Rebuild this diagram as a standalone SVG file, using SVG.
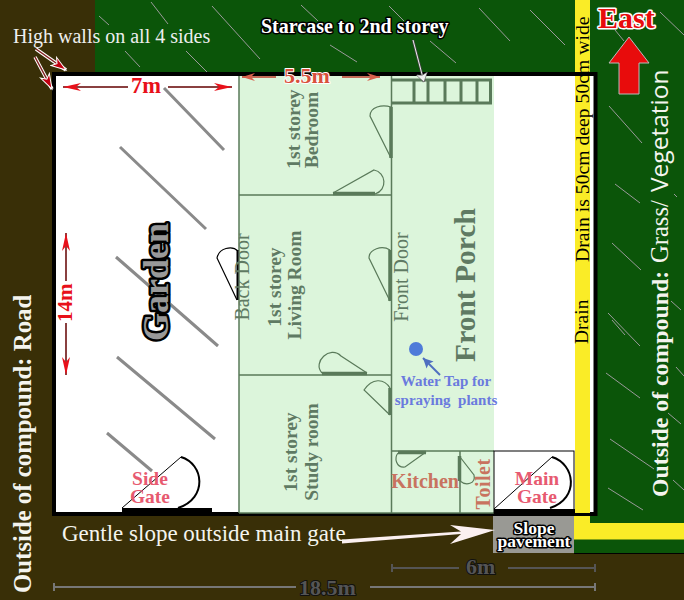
<svg xmlns="http://www.w3.org/2000/svg" width="684" height="600" viewBox="0 0 684 600">
<defs>
<style>
text{font-family:"Liberation Serif","Times New Roman",serif}
.b{font-weight:bold}
.room{fill:#5f7a63;font-weight:bold;font-size:19.500px;text-anchor:middle}
.door{fill:#5f7a63;font-size:20px;text-anchor:middle}
.gate{fill:#e75a70;font-weight:bold;font-size:19.500px;text-anchor:middle}
.tree{stroke:#8a8a8a;stroke-width:3;fill:none}
.hatch{stroke:#9a9a9a;stroke-width:1;fill:none}
.wallline{stroke:#5a7a5a;stroke-width:1.5;fill:none}
.leaf{stroke:#5a7a5a;stroke-width:1.2;fill:none}
.leafthick{stroke:#5a7a5a;stroke-width:3.5;fill:none}
.dim{stroke:#777;stroke-width:2;fill:none}
.red{stroke:#8a4040;stroke-width:2;fill:none;marker-end:url(#rh)}
.faded{stroke:#c46a58;stroke-width:2;fill:none;marker-end:url(#fh)}
.halo{paint-order:stroke;stroke-linejoin:round}
</style>
<marker id="rh" markerUnits="userSpaceOnUse" markerWidth="20" markerHeight="12" refX="18" refY="6" orient="auto" viewBox="0 0 20 12"><path d="M18 6L0 2L5 6L0 10Z" fill="#e8101a"/></marker>
<marker id="fh" markerUnits="userSpaceOnUse" markerWidth="14" markerHeight="10" refX="13" refY="5" orient="auto" viewBox="0 0 14 10"><path d="M13 5L0 1L4 5L0 9Z" fill="#d8604c"/></marker>
<marker id="wh" markerUnits="userSpaceOnUse" markerWidth="18" markerHeight="14" refX="16" refY="6" orient="auto" viewBox="0 0 18 12"><path d="M16 6L1 1L5 6L1 11Z" fill="#c00010" stroke="#fff" stroke-width="1"/></marker>
<marker id="ah" markerUnits="userSpaceOnUse" markerWidth="12" markerHeight="12" refX="10" refY="5" orient="auto" viewBox="0 0 12 10"><path d="M10 5L0 0L2 5L0 10Z" fill="#4f6fc0"/></marker>
<marker id="sh" markerUnits="userSpaceOnUse" markerWidth="10" markerHeight="16" refX="9" refY="7" orient="auto" viewBox="0 0 10 14"><path d="M9 7L0 1L2 7L0 13Z" fill="#eee" stroke="#444" stroke-width=".5"/></marker>
</defs>
<g id="ground">
<rect width="684" height="600" fill="#392f07"/>
<rect x="95" width="589" height="72" fill="#0b5509"/>
<rect x="574" width="110" height="553" fill="#0b5509"/>
<rect x="574" y="553" width="110" height="1" fill="#000"/>
<path d="M575 0H590V523H684V539.500H574V516H575Z" fill="#faec27"/>
</g>
<g id="hatching" class="hatch">
<path d="M99 16L109 25M151 2L168 24M212 6L260 59M301 5L318 21M125 51L140 67M186 51L207 72M330 45L357 62M389 6L404 21M479 8L510 41M530 10L565 45M430 41L456 63M660 12L684 35M615 30L624 41M609 106L642 143M615 184L640 203M674 194L677 197M612 243L641 270M671 301L681 310M608 313L640 346M612 320L625 335M606 373L640 398M676 367L684 376M668 413L681 424M610 439L654 469M673 480L684 490M608 488L643 510"/>
</g>
<g id="compound">
<rect x="54" y="74" width="541.500" height="440" fill="#fff" stroke="#000" stroke-width="4"/>
<rect x="575" y="76" width="15" height="437" fill="#faec27"/>
</g>
<g id="house">
<rect x="239" y="76" width="255" height="437" fill="#dcf5db"/>
<path class="wallline" d="M239 76V513M239 195H391M239 375H391M391.500 76V513M391 451H494M460 451V513M239 513H494"/>
</g>
<g id="trees" class="tree">
<path d="M164 88L224 150M120 147L206 229M116 257L218 346M117 357L215 439M107 433L152 471"/>
</g>
<g id="stairs" fill="none" stroke="#5a7a5a" stroke-width="3">
<path d="M391 80H490.500V103H391M414 80V103M428 80V103M445 80V103M461 80V103M477 80V103"/>
</g>
<g id="door-bedroom-front"><path class="leafthick" d="M391 107V158"/><path class="leaf" d="M391 158L370 116C370 107 382 104 391 107"/></g>
<g id="door-bedroom-side"><path class="leafthick" d="M333 193.500H375"/><path class="leaf" d="M333 193L374 170C386 172 388 190 375 194"/></g>
<g id="door-back"><path d="M237.500 250V300" stroke="#000" stroke-width="2" fill="none"/><path d="M237 300L217 258C219 248 232 245 238 251" stroke="#000" stroke-width="1.200" fill="none"/></g>
<g id="door-living"><path class="leafthick" d="M322 373.500H367"/><path class="leaf" d="M367 373L341 356C330 345 312 362 322 373"/></g>
<g id="door-front"><path class="leafthick" d="M390 250V301"/><path class="leaf" d="M390 301L369 258C369 249 382 245 390 250"/></g>
<g id="door-study"><path class="leafthick" d="M390 388V415"/><path class="leaf" d="M390 415L364 390C372 378 384 378 390 388"/></g>
<g id="door-kitchen"><path class="leafthick" d="M398 452.500H426"/><path class="leaf" d="M426 452L405 467C396 468 394 458 398 453"/></g>
<g id="door-toilet"><path class="leafthick" d="M459.500 456V481"/><path class="leaf" d="M460 457L474 475C476 484 466 486 460 481"/></g>
<g id="side-gate">
<rect x="122" y="508" width="90" height="6" fill="#000"/>
<path d="M122 508L181 457" stroke="#000" stroke-width="1" fill="none"/>
<path d="M181 457C204 464 208 498 178 508" stroke="#000" stroke-width="2" fill="none"/>
<text class="gate" x="150" y="485">Side</text><text class="gate" x="150" y="503">Gate</text>
</g>
<g id="main-gate">
<rect x="494" y="451" width="80" height="62" fill="#fff" stroke="#000" stroke-width="1"/>
<rect x="494" y="509" width="81" height="7" fill="#000"/>
<path d="M494 509L552 457" stroke="#000" stroke-width="1" fill="none"/>
<path d="M552 457C575 464 580 498 550 508" stroke="#000" stroke-width="2" fill="none"/>
<text class="gate" x="537" y="485">Main</text><text class="gate" x="537" y="503">Gate</text>
</g>
<g id="slope-pavement">
<rect x="493" y="516" width="81" height="37" fill="#999994"/>
<text class="b halo" x="534" y="534" font-size="17.500" fill="#fff" stroke="#000" stroke-width="3" text-anchor="middle">Slope</text>
<text class="b halo" x="534" y="546.500" font-size="17.500" fill="#fff" stroke="#000" stroke-width="3" text-anchor="middle">pavement</text>
</g>
<g id="water-tap"><circle cx="416" cy="349" r="7" fill="#4f7bd9"/></g>
<g id="connectors">
<path class="red" d="M128 87H63"/><path class="red" d="M168 87H232"/>
<path class="faded" d="M276 77H242"/><path class="faded" d="M342 77H380"/>
<path class="red" d="M66 281V233"/><path class="red" d="M66 323V375"/>
<path d="M36 49L66 70M35 57L52 89" stroke="#fff" stroke-width="3.500" fill="none"/>
<path d="M36 49L66 70" stroke="#802020" stroke-width="1.500" fill="none" marker-end="url(#wh)"/>
<path d="M35 57L52 89" stroke="#802020" stroke-width="1.500" fill="none" marker-end="url(#wh)"/>
<path d="M413 40L424 82" stroke="#444" stroke-width="2.500" fill="none"/>
<path d="M413 40L424 82" stroke="#eee" stroke-width="1" fill="none" marker-end="url(#sh)"/>
<path d="M440 375L423 358" stroke="#4f6fc0" stroke-width="2" fill="none" marker-end="url(#ah)"/>
<path d="M342 539.500L461 531.500L450 525L495 530L450 544L461 534L342 543.500Z" fill="#fbf0f0"/>
<path class="dim" d="M54 587H296M54 583V591M370 587H595M595 583V591"/>
<path d="M392 568H459M392 564V572M508 568H595M595 564V572" stroke="#555" stroke-width="2" fill="none"/>
<path d="M629 37L649 63H639V94H619V63H609Z" fill="#e80c0c" stroke="#bbb" stroke-width="1"/>
</g>
<g id="labels">
<text x="13" y="43" font-size="20" fill="#eee">High walls on all 4 sides</text>
<text class="b halo" x="261" y="33" font-size="20" fill="#fff" stroke="#000" stroke-width="3">Starcase to 2nd storey</text>
<text class="b halo" x="598" y="28" font-size="30" fill="#e80c0c" stroke="#fff" stroke-width="3">East</text>
<text class="b" x="131" y="93" font-size="22.500" fill="#e8101a">7m</text>
<text class="b halo" x="284" y="83" font-size="22" fill="#d8503c" stroke="#fff" stroke-width="2">5.5m</text>
<text class="b" transform="translate(72 322) rotate(-90)" font-size="21" fill="#e8101a">14m</text>
<text class="b halo" transform="translate(168 341) rotate(-90)" font-size="36" fill="#999" stroke="#000" stroke-width="5">Garden</text>
<text class="room" transform="translate(300 129) rotate(-90)">1st storey</text>
<text class="room" transform="translate(318 130) rotate(-90)">Bedroom</text>
<text class="room" transform="translate(281 287) rotate(-90)">1st storey</text>
<text class="room" transform="translate(301 285) rotate(-90)">Living Room</text>
<text class="room" transform="translate(297 452) rotate(-90)">1st storey</text>
<text class="room" transform="translate(318 452) rotate(-90)">Study room</text>
<text class="door" transform="translate(249 277) rotate(-90)">Back Door</text>
<text class="door" transform="translate(408 277) rotate(-90)">Front Door</text>
<text class="b" transform="translate(475 285) rotate(-90)" font-size="29.500" fill="#5f7a63" text-anchor="middle">Front Porch</text>
<text class="b" x="446" y="386" font-size="15" fill="#6a7ade" text-anchor="middle">Water Tap for</text>
<text class="b" x="446" y="405" font-size="15" fill="#6a7ade" text-anchor="middle" xml:space="preserve">spraying  plants</text>
<text class="b" x="425" y="488" font-size="20" fill="#c8735f" text-anchor="middle">Kitchen</text>
<text class="b" transform="translate(490 484) rotate(-90)" font-size="20" fill="#c8735f" text-anchor="middle" letter-spacing=".5">Toilet</text>
<text class="b" transform="translate(31 593) rotate(-90)" font-size="24.800" fill="#f4f4ee">Outside of compound: Road</text>
<text class="b" transform="translate(667.500 497) rotate(-90)" font-size="23.800" fill="#f4f4ee">Outside of compound: <tspan x="234" font-size="24.600" font-weight="normal">Grass/ </tspan><tspan x="305" font-size="24.500" font-family="'Open Sans',sans-serif" font-weight="normal">Vegetation</tspan></text>
<text transform="translate(589 262) rotate(-90)" font-size="19.700" fill="#000">Drain is 50cm deep 50cm wide</text>
<text transform="translate(588 344) rotate(-90)" font-size="19.500" fill="#000">Drain</text>
<text x="62" y="541" font-size="23" fill="#f4f4ee">Gentle slope outside main gate</text>
<text class="b halo" x="299" y="595" font-size="22" fill="#555" stroke="#111" stroke-width="2">18.5m</text>
<text class="b halo" x="466" y="574" font-size="22" fill="#555" stroke="#111" stroke-width="2">6m</text>
</g>
</svg>
